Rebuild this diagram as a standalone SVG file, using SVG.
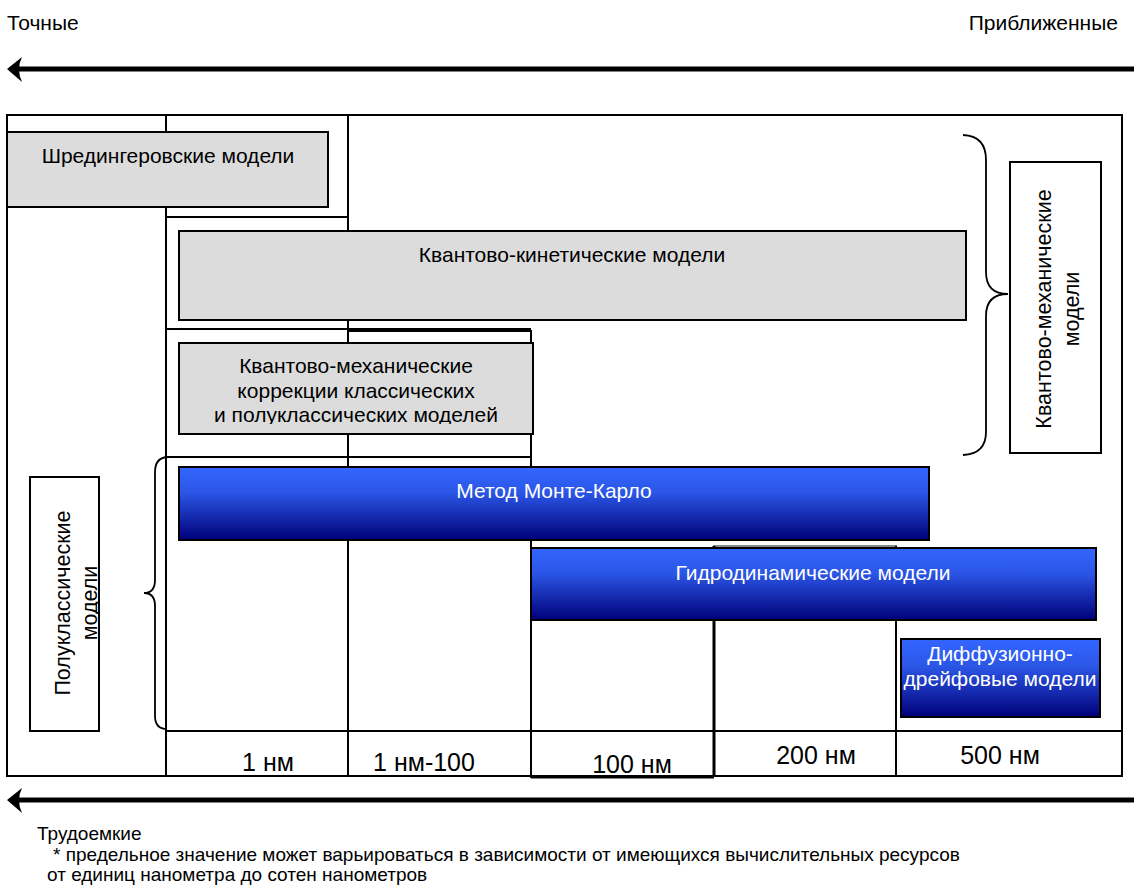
<svg xmlns="http://www.w3.org/2000/svg" width="1134" height="889" viewBox="0 0 1134 889">
<style>
  text { font-family: "Liberation Sans", Arial, sans-serif; fill: #000; }
  .lbl { font-size: 21px; text-anchor: middle; }
  .rot { font-size: 21.5px; text-anchor: middle; }
  .wlbl { font-size: 21px; text-anchor: middle; fill: #fff; }
  .nm { font-size: 25px; text-anchor: middle; }
  .note { font-size: 19px; }
  .grid { stroke: #000; stroke-width: 2; fill: none; }
  .gray { fill: #dcdcdc; stroke: #000; stroke-width: 2; }
  .blue { fill: url(#bg); stroke: #000; stroke-width: 2; }
  .brace { fill: none; stroke: #000; stroke-width: 1.8; }
  .arrow { stroke: #000; stroke-width: 5; fill: none; }
</style>
<defs>
  <linearGradient id="bg" x1="0" y1="0" x2="0" y2="1">
    <stop offset="0" stop-color="#3366ff"/>
    <stop offset="0.35" stop-color="#2b56e6"/>
    <stop offset="1" stop-color="#00007a"/>
  </linearGradient>
  <clipPath id="clipL"><rect x="30" y="477" width="68" height="254"/></clipPath>
  <clipPath id="clipK"><rect x="179" y="343" width="354" height="81"/></clipPath>
</defs>

<text x="7" y="30" style="font-size:21px">Точные</text>
<text x="1118" y="30" style="font-size:21px;text-anchor:end">Приближенные</text>

<g id="table">
  <rect class="grid" x="7" y="115" width="1115" height="661"/>
  <line class="grid" x1="166" y1="114" x2="166" y2="776"/>
  <line class="grid" x1="348" y1="114" x2="348" y2="776"/>
  <line class="grid" x1="166" y1="217" x2="348" y2="217"/>
  <line class="grid" x1="166" y1="329" x2="531" y2="329"/>
  <line class="grid" x1="348" y1="331" x2="531" y2="331"/>
  <line class="grid" x1="531" y1="330" x2="531" y2="778"/>
  <line class="grid" x1="166" y1="457" x2="531" y2="457"/>
  <line x1="713" y1="546" x2="897" y2="546" stroke="#888" stroke-width="2"/>
  <line x1="714" y1="546" x2="714" y2="777" stroke="#000" stroke-width="3"/>
  <line class="grid" x1="896" y1="546" x2="896" y2="776"/>
  <line class="grid" x1="166" y1="731" x2="1122" y2="731"/>
  <line x1="531" y1="777" x2="714" y2="777" stroke="#000" stroke-width="3"/>
</g>

<g id="schrodinger">
  <rect class="gray" x="7" y="132" width="321" height="75"/>
  <text class="lbl" x="168" y="163">Шредингеровские модели</text>
</g>

<g id="quantum-kinetic">
  <rect class="gray" x="179" y="231" width="787" height="89"/>
  <text class="lbl" x="572" y="262">Квантово-кинетические модели</text>
</g>

<g id="qm-corrections">
  <rect class="gray" x="179" y="343" width="354" height="91"/>
  <g clip-path="url(#clipK)">
    <text class="lbl" x="356" y="373">Квантово-механические</text>
    <text class="lbl" x="356" y="398">коррекции классических</text>
    <text class="lbl" x="356" y="422">и полуклассических моделей</text>
  </g>
</g>

<g id="monte-carlo">
  <rect class="blue" x="179" y="467" width="750" height="73"/>
  <text class="wlbl" x="554" y="498">Метод Монте-Карло</text>
</g>

<g id="hydro">
  <rect class="blue" x="531" y="548" width="565" height="72"/>
  <text class="wlbl" x="813" y="580">Гидродинамические модели</text>
</g>

<g id="drift-diffusion">
  <rect class="blue" x="901" y="639" width="199" height="78"/>
  <text class="wlbl" x="1000" y="661">Диффузионно-</text>
  <text class="wlbl" x="1000" y="686">дрейфовые модели</text>
</g>

<g id="qm-label">
  <rect x="1010" y="162" width="91" height="291" fill="#fff" stroke="#000" stroke-width="2"/>
  <g transform="translate(1055,309) rotate(-90)">
    <text class="rot" x="0" y="-4">Квантово-механические</text>
    <text class="rot" x="0" y="24">модели</text>
  </g>
</g>

<g id="semiclassical-label">
  <rect x="30" y="477" width="69" height="254" fill="#fff" stroke="#000" stroke-width="2"/>
  <g clip-path="url(#clipL)">
    <g transform="translate(65,603) rotate(-90)">
      <text class="rot" x="0" y="5">Полуклассические</text>
      <text class="rot" x="0" y="32">модели</text>
    </g>
  </g>
</g>

<g id="connectors">
  <path class="brace" d="M963,135 Q986,136 986,160 L986,272 Q986,294 1008,294 Q986,294 986,316 L986,432 Q986,454 963,455"/>
  <path class="brace" d="M167,457 Q155,458 155,472 L155,580 Q155,593 144,593 Q155,593 155,606 L155,716 Q155,729 167,729"/>
  <line class="arrow" x1="16" y1="69" x2="1134" y2="69"/>
  <path d="M7,69 L22,57 Q16,69 22,82 Z" fill="#000"/>
  <line class="arrow" x1="16" y1="800" x2="1134" y2="800"/>
  <path d="M7,800 L22,788 Q16,800 22,813 Z" fill="#000"/>
</g>

<g id="scale">
  <text class="nm" x="268" y="771">1 нм</text>
  <text class="nm" x="424" y="771">1 нм-100</text>
  <text class="nm" x="632" y="773">100 нм</text>
  <text class="nm" x="816" y="764">200 нм</text>
  <text class="nm" x="1000" y="764">500 нм</text>
</g>

<text class="note" x="37" y="840">Трудоемкие</text>
<text class="note" x="53" y="861">* предельное значение может варьироваться в зависимости от имеющихся вычислительных ресурсов</text>
<text class="note" x="47" y="881">от единиц нанометра до сотен нанометров</text>
</svg>
